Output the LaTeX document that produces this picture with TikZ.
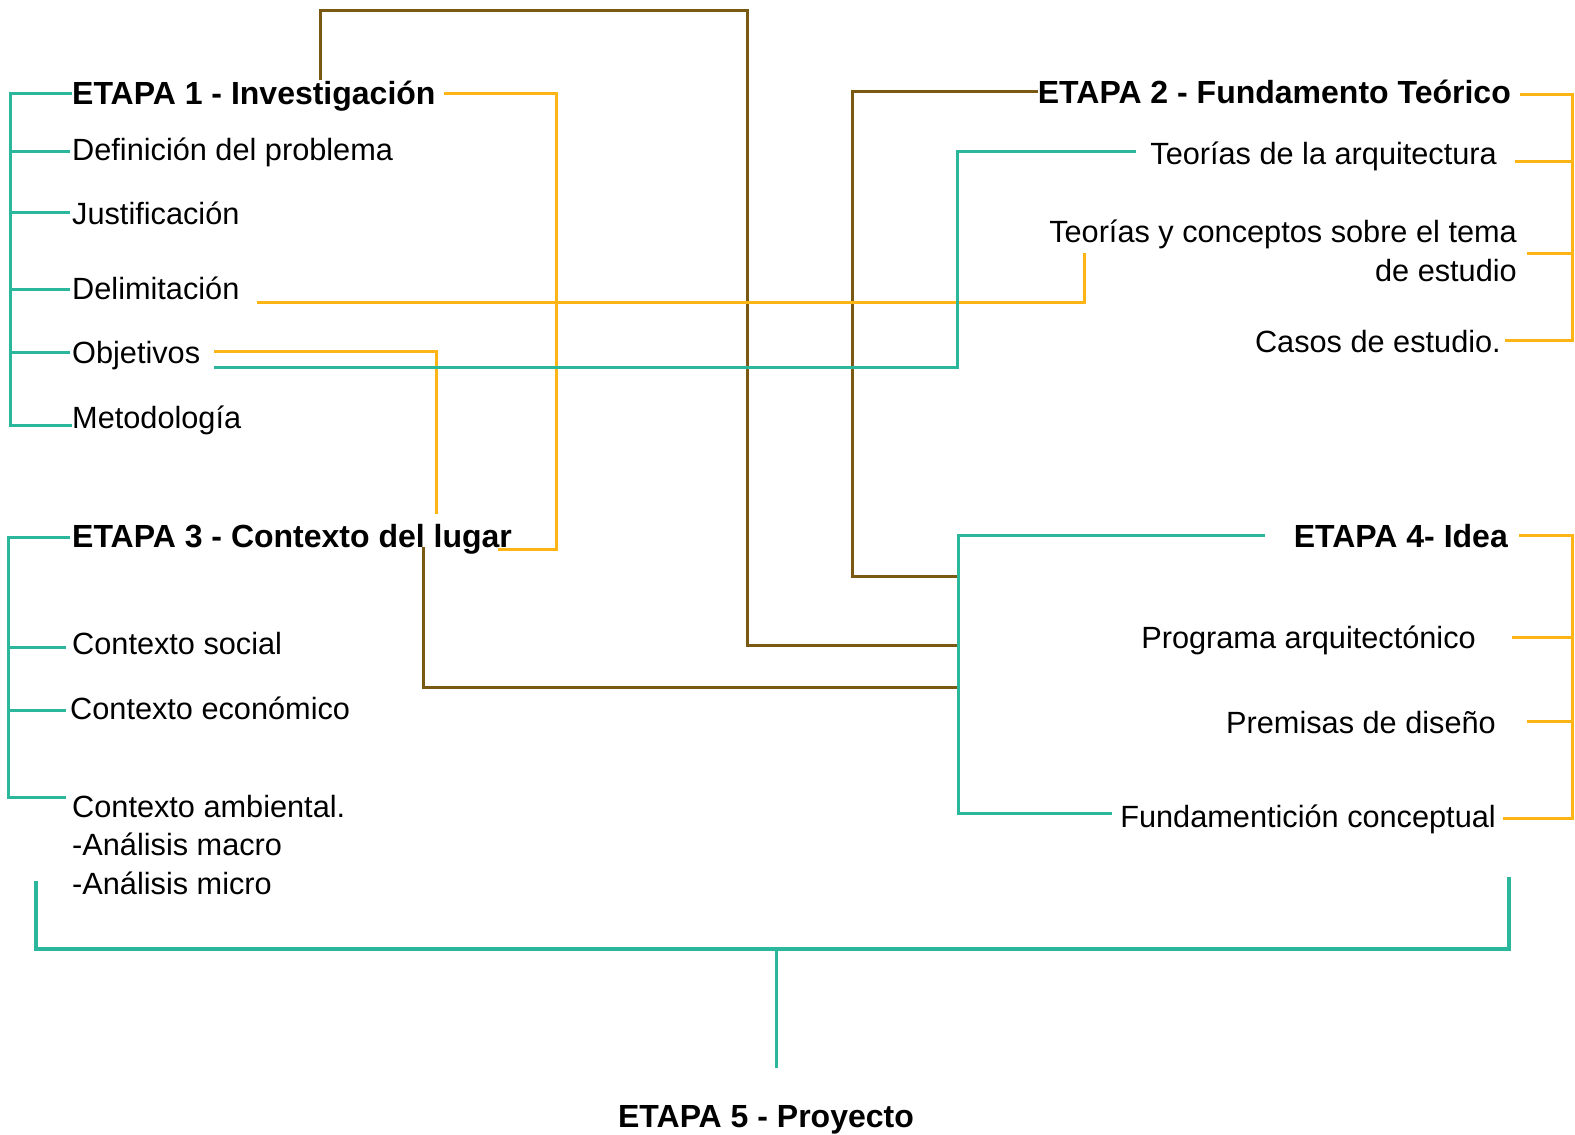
\documentclass[tikz,border=0pt]{standalone}
\usepackage{fontspec}
\setmainfont{Liberation Sans}
\definecolor{gr}{HTML}{2BB79B}
\definecolor{ye}{HTML}{FDB515}
\definecolor{br}{HTML}{7A5912}
\begin{document}
\begin{tikzpicture}[x=1pt,y=-1pt,
  txt/.style={inner sep=0pt, font=\fontsize{30.7}{38.5}\selectfont},
  hd/.style={inner sep=0pt, font=\fontsize{32}{38.5}\selectfont\bfseries},
  gl/.style={draw=gr, line width=3pt},
  yl/.style={draw=ye, line width=3pt},
  bl/.style={draw=br, line width=3pt}]
\useasboundingbox[fill=white] (0,0) rectangle (1575,1135);

% Etapa 1
\node[hd, anchor=base west] (e1) at (72,104) {ETAPA 1 - Investigación};
\node[txt, anchor=base west] (dp) at (72,160) {Definición del problema};
\node[txt, anchor=base west] (ju) at (72,224) {Justificación};
\node[txt, anchor=base west] (de) at (72,299) {Delimitación};
\node[txt, anchor=base west] (ob) at (72,363) {Objetivos};
\node[txt, anchor=base west] (me) at (72,428) {Metodología};

% Etapa 2
\node[hd, anchor=base east] (e2) at (1511,103) {ETAPA 2 - Fundamento Teórico};
\node[txt, anchor=base east] (ta) at (1497,164) {Teorías de la arquitectura};
\node[txt, anchor=east, align=right] (tc) at (1517,251) {Teorías y conceptos sobre el tema\\de estudio};
\node[txt, anchor=base east] (cs) at (1501,352) {Casos de estudio.};

% Etapa 3
\node[hd, anchor=base west] (e3) at (72,547) {ETAPA 3 - Contexto del lugar};
\node[txt, anchor=base west] (cso) at (72,654) {Contexto social};
\node[txt, anchor=base west] (cec) at (70,719) {Contexto económico};
\node[txt, anchor=west, align=left] (cam) at (72,845) {Contexto ambiental.\\-Análisis macro\\-Análisis micro};

% Etapa 4
\node[hd, anchor=base east] (e4) at (1508,547) {ETAPA 4- Idea};
\node[txt, anchor=base east] (pa) at (1476,648) {Programa arquitectónico};
\node[txt, anchor=base east] (pd) at (1496,733) {Premisas de diseño};
\node[txt, anchor=base east] (fc) at (1496,827) {Fundamentición conceptual};

% Etapa 5
\node[hd, anchor=base] (e5) at (766,1127) {ETAPA 5 - Proyecto};

% coordinates
\coordinate (v4t) at (958,535);
\coordinate (v4b) at (958,813);
\coordinate (tcend) at (1084,253);
\coordinate (bL) at (36,881);
\coordinate (bR) at (1509,877);
\coordinate (stemb) at (776,1068);

% green bracket Etapa 1
\draw[gl] (e1.west |- 0,93) -- (10,93) -- (10,425) -- (me.west |- 0,425);
\foreach \n/\y in {dp/151, ju/212, de/289, ob/352}
  \draw[gl] (10,\y) -- ([xshift=-2pt]\n.west |- 0,\y);

% green bracket Etapa 3
\draw[gl] ([xshift=-2pt]e3.west |- 0,537) -- (8,537) -- (8,797) -- ([xshift=-6pt]cam.west |- 0,797);
\draw[gl] (8,647) -- ([xshift=-6pt]cso.west |- 0,647);
\draw[gl] (8,710) -- ([xshift=-4pt]cec.west |- 0,710);

% brown Etapa 1 -> Etapa 4
\draw[bl] (320,0 |- e1.north) -- (320,10) -- (747,10) -- (747,645) -- (v4t |- 0,645);
% brown Etapa 2 -> Etapa 4
\draw[bl] (e2.west |- 0,91) -- (852,91) -- (852,576) -- (v4t |- 0,576);
% brown Etapa 3 -> Etapa 4
\draw[bl] (423,0 |- e3.base) -- (423,687) -- (v4t |- 0,687);

% yellow Etapa 1 -> Etapa 3
\draw[yl] ([xshift=8pt]e1.east |- 0,93) -- (556,93) -- (556,549) -- ([xshift=-14pt]e3.east |- 0,549);
% yellow Delimitacion -> Teorias y conceptos
\draw[yl] ([xshift=17pt]de.east |- 0,302) -- (tcend |- 0,302) -- (tcend);
% yellow Objetivos
\draw[yl] ([xshift=14pt]ob.east |- 0,351) -- (436,351) -- (436,514);
% green Objetivos -> Teorias de la arquitectura
\draw[gl] ([xshift=14pt]ob.east |- 0,367) -- (957,367) -- (957,151) -- ([xshift=-14pt]ta.west |- 0,151);

% green Etapa 4 bracket
\draw[gl] ([xshift=-29pt]e4.west |- 0,535) -- (v4t) -- (v4b) -- ([xshift=-8pt]fc.west |- 0,813);

% yellow right bracket Etapa 2
\draw[yl] ([xshift=9pt]e2.east |- 0,94) -- (1572,94) -- (1572,340) -- ([xshift=4pt]cs.east |- 0,340);
\draw[yl] ([xshift=18pt]ta.east |- 0,161) -- (1572,161);
\draw[yl] ([xshift=10pt]tc.east |- 0,253) -- (1572,253);

% yellow right bracket Etapa 4
\draw[yl] ([xshift=11pt]e4.east |- 0,535) -- (1572,535) -- (1572,818) -- ([xshift=7pt]fc.east |- 0,818);
\draw[yl] ([xshift=36pt]pa.east |- 0,637) -- (1572,637);
\draw[yl] ([xshift=31pt]pd.east |- 0,721) -- (1572,721);

% bottom bracket to Etapa 5
\draw[gl, line width=3.5pt] (bL) -- (36,949) -- (1509,949) -- (bR);
\draw[gl] (776,949) -- (stemb);
\end{tikzpicture}
\end{document}
